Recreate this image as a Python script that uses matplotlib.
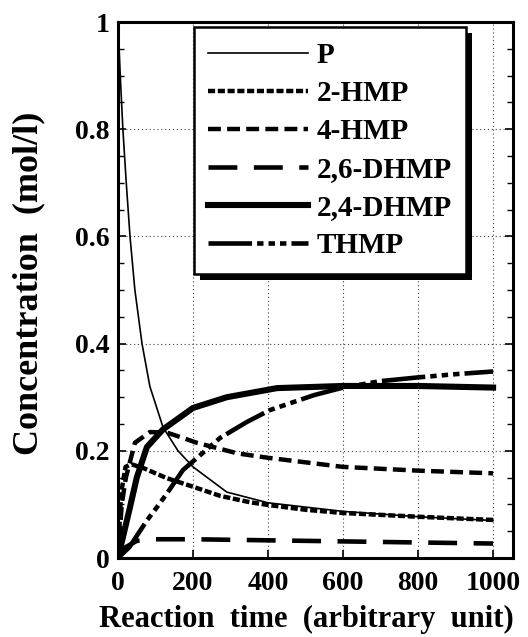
import matplotlib
matplotlib.use('Agg')
import numpy as np
import matplotlib.pyplot as plt
from matplotlib.ticker import MultipleLocator
from matplotlib.patches import Rectangle
from matplotlib.transforms import IdentityTransform

# values (time in arbitrary units, concentration in mol/l)
t_p = [0, 6, 13, 22, 32, 45, 64, 85, 120, 160, 200, 290, 400, 600, 800, 1000]
c_p = [1.0, 0.9, 0.8, 0.7, 0.6, 0.5, 0.4, 0.32, 0.244, 0.2, 0.17, 0.123, 0.103, 0.087, 0.077, 0.07]

t_2hmp = [0, 8, 20, 35, 67, 130, 200, 272, 352, 400, 500, 600, 800, 1000]
c_2hmp = [0, 0.12, 0.17, 0.175, 0.168, 0.149, 0.133, 0.116, 0.104, 0.099, 0.09, 0.084, 0.077, 0.071]

t_4hmp = [0, 10, 21, 45, 85, 130, 165, 210, 320, 400, 600, 800, 1000]
c_4hmp = [0, 0.1, 0.15, 0.215, 0.235, 0.234, 0.226, 0.215, 0.195, 0.187, 0.17, 0.163, 0.158]

t_26dhmp = [0, 20, 50, 100, 200, 400, 600, 800, 1000]
c_26dhmp = [0, 0.02, 0.032, 0.035, 0.035, 0.033, 0.031, 0.029, 0.027]

t_24dhmp = [0, 32, 50, 77, 120, 200, 290, 424, 600, 800, 1000]
c_24dhmp = [0, 0.095, 0.15, 0.207, 0.24, 0.28, 0.30, 0.317, 0.321, 0.321, 0.318]

t_thmp = [0, 30, 77, 104, 130, 173, 272, 344, 405, 523, 600, 700, 800, 900, 1000]
c_thmp = [0, 0.02, 0.07, 0.095, 0.12, 0.164, 0.224, 0.254, 0.276, 0.304, 0.318, 0.33, 0.337, 0.343, 0.348]

x_ticks = [0, 200, 400, 600, 800, 1000]
y_ticks = [0, 0.2, 0.4, 0.6, 0.8, 1.0]
y_ticklabels = ['0', '0.2', '0.4', '0.6', '0.8', '1']

plt.rcParams['font.family'] = 'Liberation Serif'
plt.rcParams['font.weight'] = 'bold'
plt.rcParams['axes.labelweight'] = 'bold'

fig = plt.figure(figsize=(5.28, 6.37), dpi=100)
ax = fig.add_axes([0.2235, 0.124, 0.748, 0.8414])

ax.plot(t_p, c_p, color='k', lw=1.2, label='P')
ax.plot(t_2hmp, c_2hmp, color='k', lw=3.2, dashes=(1.6, 0.6), label='2-HMP')
ax.plot(t_4hmp, c_4hmp, color='k', lw=3.2, dashes=(2.9, 1.4), label='4-HMP')
ax.plot(t_26dhmp, c_26dhmp, color='k', lw=3.3, dashes=(6.3, 3.6), label='2,6-DHMP')
ax.plot(t_24dhmp, c_24dhmp, color='k', lw=4.4, label='2,4-DHMP')
ax.plot(t_thmp, c_thmp, color='k', lw=3.3,
        dashes=(9.5, 1.1, 1.4, 1.1, 1.4, 1.1, 1.4, 1.1), label='THMP')

ax.set_xlim(0, 1053)
ax.set_ylim(0, 1)
ax.set_xticks(x_ticks)
ax.set_xticklabels([str(v) for v in x_ticks])
ax.set_yticks(y_ticks)
ax.set_yticklabels(y_ticklabels)
ax.yaxis.set_minor_locator(MultipleLocator(0.05))

ax.tick_params(axis='both', which='major', direction='in', length=6, width=1.2,
               labelsize=20)
ax.tick_params(axis='y', which='both', right=True)
ax.tick_params(axis='y', which='minor', direction='in', length=4, width=1.0)
ax.tick_params(axis='x', pad=9)
ax.tick_params(axis='y', pad=6)

for s in ax.spines.values():
    s.set_linewidth(2.2)

ax.grid(True, which='major', color='0.25', linestyle=(0, (1, 2.5)), linewidth=0.8)

ax.set_xlabel('Reaction  time  (arbitrary  unit)', fontsize=22)
ax.set_ylabel('Concentration  (mol/l)', fontsize=26)
ax.xaxis.set_label_coords(0.478, -0.088)
ax.yaxis.set_label_coords(-0.185, 0.513)

leg = ax.legend(loc='upper left', bbox_to_anchor=(0.192, 0.99), borderaxespad=0,
                fontsize=21, handlelength=3.4, handletextpad=0.3, labelspacing=0.38,
                borderpad=0.5, fancybox=False, framealpha=1, edgecolor='k')
leg.get_frame().set_linewidth(1.8)
leg.set_zorder(6)

# heavy drop shadow behind the legend box
fig.canvas.draw()
bb = leg.get_frame().get_window_extent()
ax.add_patch(Rectangle((bb.x0 + 6, bb.y0 - 6), bb.width, bb.height,
                       transform=IdentityTransform(), facecolor='k',
                       edgecolor='none', zorder=5.5))

fig.savefig('out.png', dpi=100)
